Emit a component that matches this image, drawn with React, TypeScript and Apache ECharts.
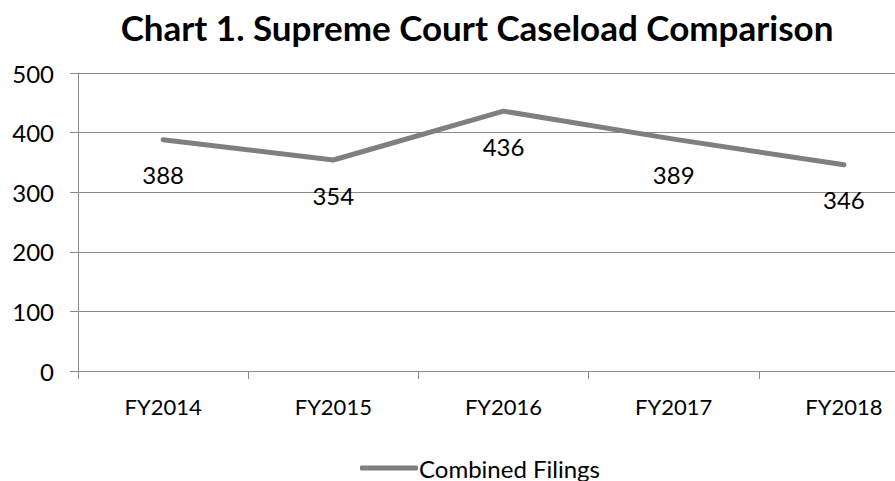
import React, { useEffect, useRef } from "react";
import * as echarts from "echarts";

const categories = ["FY2014", "FY2015", "FY2016", "FY2017", "FY2018"];
const combinedFilings = [388, 354, 436, 389, 346];
const yTicks = { min: 0, max: 500, interval: 100 };
const titleText = "Chart 1. Supreme Court Caseload Comparison";
const seriesName = "Combined Filings";

export default function App() {
  const ref = useRef<HTMLDivElement>(null);
  useEffect(() => {
    if (!ref.current) return;
    const chart = echarts.init(ref.current, null, { renderer: "svg" });
    const font = "Lato, 'Open Sans', sans-serif";
    chart.setOption({
      animation: false,
      backgroundColor: "#ffffff",
      textStyle: { fontFamily: font },
      title: {
        text: titleText,
        left: 472,
        textAlign: "center",
        top: 4,
        textStyle: { fontFamily: font, fontWeight: "bold", fontSize: 35, color: "#000" },
      },
      legend: {
        top: 451,
        left: 355,
        itemWidth: 58,
        itemHeight: 5,
        itemGap: 4,
        icon: "roundRect",
        data: [{ name: seriesName, icon: "roundRect" }],
        textStyle: { fontFamily: font, fontSize: 24, color: "#000", padding: [0, 0, 0, -4] },
      },
      grid: { left: 78, top: 73, bottom: 110, right: 0, containLabel: false },
      xAxis: {
        type: "category",
        data: categories,
        boundaryGap: true,
        axisLine: { lineStyle: { color: "#8a8a8a", width: 1 } },
        axisTick: { show: true, length: 8, alignWithLabel: false, lineStyle: { color: "#8a8a8a" } },
        axisLabel: { fontFamily: font, fontSize: 22, color: "#000", margin: 24 },
        splitLine: { show: false },
      },
      yAxis: {
        type: "value",
        min: yTicks.min,
        max: yTicks.max,
        interval: yTicks.interval,
        axisLine: { show: true, lineStyle: { color: "#8a8a8a", width: 1 } },
        axisTick: { show: true, length: 8, lineStyle: { color: "#8a8a8a" } },
        axisLabel: { fontFamily: font, fontSize: 24, color: "#000", margin: 24 },
        splitLine: { show: true, lineStyle: { color: "#8a8a8a", width: 1 } },
      },
      series: [
        {
          name: seriesName,
          type: "line",
          data: combinedFilings,
          symbol: "circle",
          symbolSize: 2,
          itemStyle: { color: "#7f7f7f" },
          lineStyle: { color: "#7f7f7f", width: 5, cap: "round", join: "round" },
          label: {
            show: true,
            position: "bottom",
            distance: 22,
            fontFamily: font,
            fontSize: 24,
            color: "#000",
          },
        },
      ],
    });
    return () => chart.dispose();
  }, []);
  return (
    <div style={{ position: "absolute", left: 0, top: 0, width: 895, height: 481, overflow: "hidden" }}>
      <div ref={ref} style={{ width: 929, height: 481 }} />
    </div>
  );
}
